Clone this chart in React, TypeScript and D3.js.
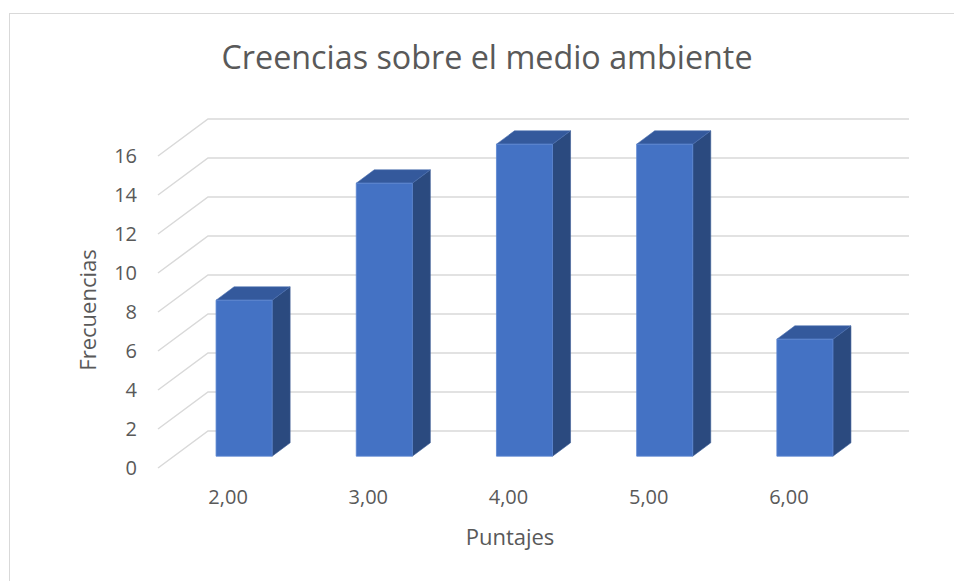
import React from "react";
import * as d3 from "d3";

const categories: string[] = ["2,00", "3,00", "4,00", "5,00", "6,00"];
const frequencies: number[] = [8, 14, 16, 16, 6];
const yTicks: number[] = [0, 2, 4, 6, 8, 10, 12, 14, 16];
const chartTitle = "Creencias sobre el medio ambiente";
const xTitle = "Puntajes";
const yTitle = "Frecuencias";

const W = 954;
const H = 581;
const FONT = "'Open Sans', 'DejaVu Sans', sans-serif";
const TEXT = "#595959";
const GRID = "#d9d9d9";

// 3D projection: depth offset of the back wall
const DEPTH_X = 50;
const DEPTH_Y = -37;
const Z0 = 0.32;
const Z1 = 0.68;

export default function App() {
  const x = d3
    .scaleBand<string>()
    .domain(categories)
    .range([158, 859])
    .paddingInner(0.6)
    .paddingOuter(0.3);
  const y = d3.scaleLinear().domain([0, 16]).range([468, 156]);

  const proj = (px: number, v: number, z: number): [number, number] => [
    px + z * DEPTH_X,
    y(v) + z * DEPTH_Y,
  ];
  const poly = (pts: [number, number][]) => pts.map((p) => p.join(",")).join(" ");

  const floorLeft = x.range()[0];
  const floorRight = x.range()[1];

  return (
    <svg
      width={W}
      height={H}
      style={{ position: "absolute", left: 0, top: 0, background: "#fff" }}
      fontFamily={FONT}
    >
      <rect x={9.5} y={13.5} width={1200} height={1200} fill="#fff" stroke={GRID} strokeWidth={1} />

      {/* gridlines: back wall + side wall diagonals */}
      {yTicks.map((t) => {
        const a = proj(floorLeft, t, 0);
        const b = proj(floorLeft, t, 1);
        const c = proj(floorRight, t, 1);
        return (
          <polyline
            key={t}
            points={poly([a, b, c])}
            fill="none"
            stroke={GRID}
            strokeWidth={1.5}
          />
        );
      })}

      {/* bars */}
      {categories.map((cat, i) => {
        const v = frequencies[i];
        const x0 = x(cat)!;
        const x1 = x0 + x.bandwidth();
        const front = [proj(x0, 0, Z0), proj(x1, 0, Z0), proj(x1, v, Z0), proj(x0, v, Z0)] as [number, number][];
        const side = [proj(x1, 0, Z0), proj(x1, 0, Z1), proj(x1, v, Z1), proj(x1, v, Z0)] as [number, number][];
        const top = [proj(x0, v, Z0), proj(x1, v, Z0), proj(x1, v, Z1), proj(x0, v, Z1)] as [number, number][];
        return (
          <g key={cat}>
            <polygon points={poly(side)} fill="#2B4A7F" stroke="#3a5c95" strokeWidth={0.6} />
            <polygon points={poly(top)} fill="#34599C" stroke="#4a6fb0" strokeWidth={0.6} />
            <polygon points={poly(front)} fill="#4472C4" stroke="#5a85d0" strokeWidth={0.8} />
          </g>
        );
      })}

      {/* y tick labels */}
      {yTicks.map((t) => (
        <text
          key={t}
          x={137}
          y={y(t)}
          dy="0.35em"
          textAnchor="end"
          fontSize={20}
          fill={TEXT}
        >
          {t}
        </text>
      ))}

      {/* x tick labels */}
      {categories.map((cat) => (
        <text
          key={cat}
          x={x(cat)! + x.bandwidth() / 2}
          y={497}
          dy="0.35em"
          textAnchor="middle"
          fontSize={20}
          fill={TEXT}
        >
          {cat}
        </text>
      ))}

      <text x={487} y={58} dy="0.35em" textAnchor="middle" fontSize={32.3} fill={TEXT}>
        {chartTitle}
      </text>
      <text x={510} y={537} dy="0.35em" textAnchor="middle" fontSize={22} fill={TEXT}>
        {xTitle}
      </text>
      <text
        transform={`translate(88,310) rotate(-90)`}
        dy="0.35em"
        textAnchor="middle"
        fontSize={22}
        fill={TEXT}
      >
        {yTitle}
      </text>
    </svg>
  );
}
